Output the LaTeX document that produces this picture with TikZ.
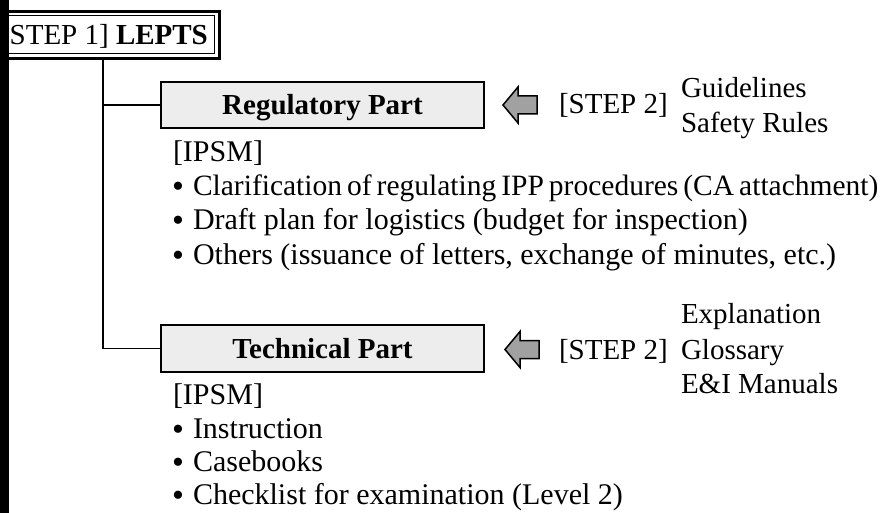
\documentclass[tikz,border=0pt]{standalone}
\usepackage{fontspec}
\setmainfont{Liberation Serif}
\newcommand{\bigbul}{\raisebox{-2pt}{\fontsize{34}{34}\selectfont\textbullet}}
\begin{document}
\begin{tikzpicture}[x=1pt,y=-1pt,
  every node/.style={font=\fontsize{29}{34}\selectfont},
  txt/.style={inner sep=0pt, outer sep=0pt, anchor=base west},
  ltxt/.style={txt, font=\fontsize{30}{34}\selectfont},
  bul/.style={inner sep=0pt, outer sep=0pt, anchor=base west},
  partbox/.style={draw, line width=1.6pt, fill=black!7, minimum width=323pt, minimum height=46pt,
    text height=19pt, text depth=0pt, inner sep=0pt, outer sep=0pt,
    font=\fontsize{29}{34}\selectfont\bfseries},
  tree/.style={line width=1.6pt},
  leftarrow/.style={draw, line width=1.5pt, fill=black!37, line join=miter}
  ]
\path[use as bounding box] (0,0) rectangle (885,513);

% STEP 1 box
\node (step1) [draw, line width=3pt, outer sep=0pt, inner sep=0pt,
  minimum width=215pt, minimum height=47pt] at (112,35) {};
\draw[line width=1pt] ([xshift=-5.5pt,yshift=-4.5pt]step1.north east) rectangle ([yshift=4.5pt]step1.south west);
\node (s1txt) [txt] at (0,45) {[STEP 1] \textbf{LEPTS}};

% left bar
\fill[black] (0,0) rectangle (9,513);

% part boxes
\node (reg) [partbox] at (322.5,105) {Regulatory Part};
\node (tech) [partbox, minimum height=47pt] at (322.5,348.5) {Technical Part};

% tree
\coordinate (j1) at (103,105);
\coordinate (j2) at (103,348.5);
\draw[tree] (j1 |- step1.south) -- (j2) -- (tech.west);
\draw[tree] (j1) -- (reg.west);

% arrows
\coordinate (ra) at (503,105);
\draw[leftarrow] (ra) -- ++(15,-18) -- ++(0,9) -- ++(19,0) -- ++(0,18) -- ++(-19,0) -- ++(0,9) -- cycle;
\coordinate (ta) at (505,349.5);
\draw[leftarrow] (ta) -- ++(15,-18) -- ++(0,9) -- ++(19,0) -- ++(0,18) -- ++(-19,0) -- ++(0,9) -- cycle;

% STEP 2 regulatory
\node (rs2) [txt] at (559,114) {[STEP 2]};
\node (rg1) [txt] at (681,98) {Guidelines};
\node (rg2) [txt] at (681,133) {Safety Rules};

% STEP 2 technical
\node (ts2) [txt] at (559,359) {[STEP 2]};
\node (tg1) [txt] at (681,323) {Explanation};
\node (tg2) [txt] at (681,359) {Glossary};
\node (tg3) [txt] at (681,393) {E\&I Manuals};

% regulatory list
\node (ri) [ltxt] at (173,162) {[IPSM]};
\node (rb1) [bul] at (172,195) {\bigbul};
\node (rt1) [txt, font=\fontsize{29.5}{34}\selectfont] at (193,195) {\spaceskip=0.17em plus 0.05em Clarification of regulating IPP procedures (CA attachment)};
\node (rb2) [bul] at (172,229) {\bigbul};
\node (rt2) [ltxt] at (193,229) {Draft plan for logistics (budget for inspection)};
\node (rb3) [bul] at (172,264) {\bigbul};
\node (rt3) [ltxt] at (193,264) {Others (issuance of letters, exchange of minutes, etc.)};

% technical list
\node (ti) [ltxt] at (173,404) {[IPSM]};
\node (tb1) [bul] at (172,438) {\bigbul};
\node (tt1) [ltxt] at (193,438) {Instruction};
\node (tb2) [bul] at (172,471) {\bigbul};
\node (tt2) [ltxt] at (193,471) {Casebooks};
\node (tb3) [bul] at (172,504) {\bigbul};
\node (tt3) [ltxt] at (193,504) {Checklist for examination (Level 2)};
\end{tikzpicture}
\end{document}
